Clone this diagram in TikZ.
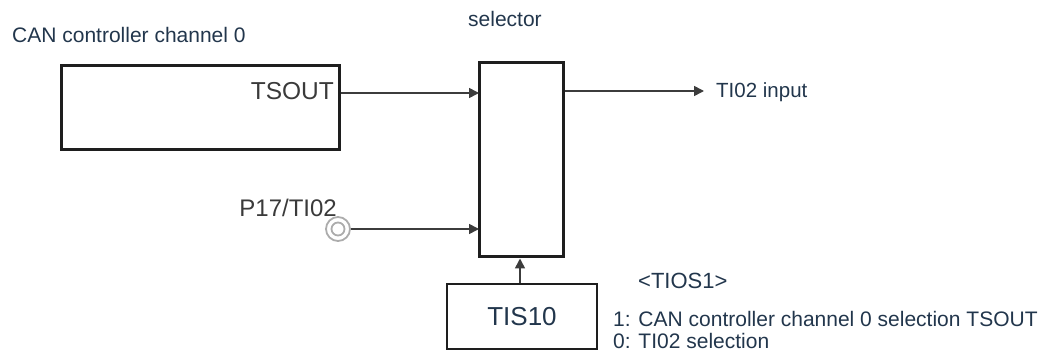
\documentclass[tikz,border=0pt]{standalone}
\usepackage{fontspec}
\setmainfont{Liberation Sans}
\usetikzlibrary{arrows.meta}
\definecolor{txt}{HTML}{22364C}
\definecolor{txtg}{HTML}{3A3A3A}
\definecolor{ln}{HTML}{3C3C3C}
\definecolor{bx}{HTML}{1E1E1E}
\tikzset{
  lbl/.style={inner sep=0pt, text=txt, font=\fontsize{21}{25}\selectfont},
  boxthick/.style={draw=bx, line width=3pt, rectangle, inner sep=0pt},
  boxthin/.style={draw=bx, line width=1.5pt, rectangle, inner sep=0pt},
  conn/.style={draw=ln, line width=1.6pt, -{Triangle[length=10pt,width=10pt]}},
  pinring/.style={draw=gray!65, line width=1.8pt, circle, inner sep=0pt}
}
\begin{document}
\begin{tikzpicture}[x=1pt,y=-1pt]
\useasboundingbox (0,0) rectangle (1049,355);
% labels
\node[lbl, anchor=base west] (canlbl) at (12,43) {CAN controller channel 0};
\node[lbl, anchor=base west] (sellbl) at (468,27) {selector};
% boxes
\node[boxthick, minimum width=278pt, minimum height=84pt] (canbox) at (200,108) {};
\node[boxthick, minimum width=84pt, minimum height=194pt] (selbox) at (521,160) {};
\node[boxthin, minimum width=150pt, minimum height=65pt, text=txt, font=\fontsize{26}{30}\selectfont] (tisbox) at (522,316.5) {TIS10};
\node[lbl, anchor=base east, text=txtg, font=\fontsize{24.5}{28}\selectfont] (tsout) at (334,100) {TSOUT};
% connectors
\coordinate (in1) at (479,93);
\coordinate (in2) at (479,229);
\coordinate (outend) at (704,91);
\draw[conn] (canbox.east |- in1) -- (in1);
\draw[conn] (selbox.east |- outend) -- (outend);
\node[lbl, anchor=base west, font=\fontsize{20.5}{25}\selectfont] (tiin) at (716,98) {TI02 input};
% pin
\node[pinring, minimum size=24pt] (pin) at (338,229) {};
\node[pinring, minimum size=13pt] (pinin) at (pin.center) {};
\node[lbl, anchor=base east, text=txtg, font=\fontsize{24}{28}\selectfont] (pinlbl) at (337,217) {P17/TI02};
\draw[conn] (pin.east) -- (in2);
\draw[conn] (tisbox.north -| 520,0) -- (selbox.south -| 520,0);
% legend
\node[lbl, anchor=base west, font=\fontsize{22}{26}\selectfont] (tios) at (638,288) {<TIOS1>};
\node[lbl, anchor=base west] (sel1) at (613,326) {1: CAN controller channel 0 selection TSOUT};
\node[lbl, anchor=base west] (sel0) at (613,348) {0: TI02 selection};
\end{tikzpicture}
\end{document}
